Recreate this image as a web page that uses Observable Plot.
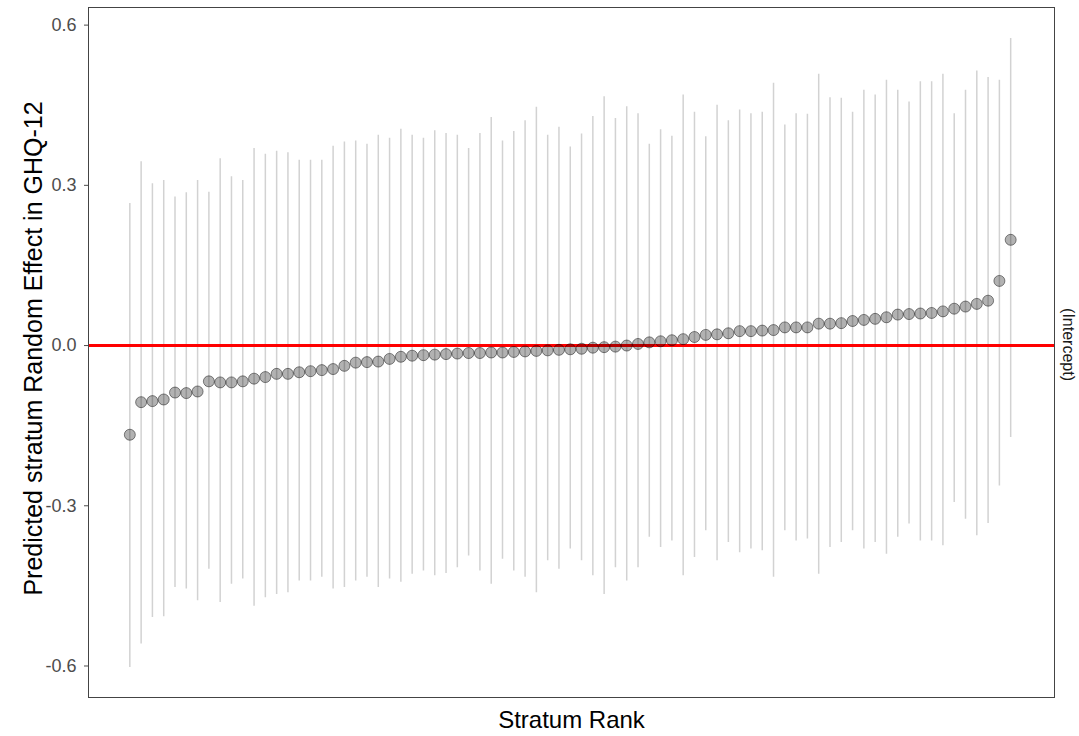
<!DOCTYPE html>
<html>
<head>
<meta charset="utf-8">
<script src="https://cdn.jsdelivr.net/npm/d3@7"></script>
<script src="https://cdn.jsdelivr.net/npm/@observablehq/plot@0.6"></script>
<style>
  html, body { margin: 0; padding: 0; background: #fff; }
</style>
</head>
<body>
<div id="chart"></div>
<script>
// Predicted stratum random effects (sorted by rank) with interval ends
const estimate = [-0.167,-0.106,-0.104,-0.101,-0.088,-0.089,-0.086,-0.067,-0.069,-0.069,
  -0.067,-0.062,-0.059,-0.053,-0.053,-0.050,-0.048,-0.046,-0.044,-0.038,
  -0.032,-0.031,-0.030,-0.025,-0.021,-0.019,-0.018,-0.017,-0.016,-0.015,
  -0.014,-0.014,-0.013,-0.013,-0.012,-0.011,-0.010,-0.009,-0.008,-0.007,
  -0.006,-0.004,-0.003,-0.002,0.000,0.003,0.006,0.008,0.010,0.012,
  0.016,0.020,0.021,0.023,0.027,0.027,0.028,0.029,0.034,0.034,
  0.034,0.041,0.041,0.042,0.046,0.048,0.050,0.053,0.058,0.059,
  0.060,0.061,0.064,0.069,0.073,0.078,0.084,0.121,0.198];
const upper = [0.266,0.344,0.303,0.309,0.278,0.286,0.309,0.287,0.350,0.316,
  0.309,0.369,0.358,0.364,0.361,0.347,0.347,0.347,0.373,0.381,
  0.383,0.377,0.394,0.388,0.405,0.394,0.388,0.402,0.397,0.394,
  0.369,0.397,0.427,0.383,0.401,0.421,0.446,0.394,0.409,0.372,
  0.396,0.429,0.466,0.425,0.447,0.434,0.377,0.404,0.392,0.469,
  0.437,0.391,0.450,0.421,0.441,0.434,0.437,0.491,0.413,0.434,
  0.433,0.508,0.464,0.463,0.437,0.478,0.469,0.497,0.478,0.456,
  0.494,0.494,0.508,0.434,0.478,0.514,0.502,0.497,0.575];
const lower = [-0.603,-0.559,-0.509,-0.508,-0.453,-0.456,-0.478,-0.419,-0.481,-0.447,
  -0.437,-0.488,-0.472,-0.466,-0.463,-0.441,-0.441,-0.434,-0.456,-0.453,
  -0.441,-0.434,-0.453,-0.437,-0.443,-0.428,-0.422,-0.431,-0.427,-0.416,
  -0.394,-0.422,-0.447,-0.400,-0.422,-0.434,-0.463,-0.403,-0.419,-0.381,
  -0.403,-0.431,-0.466,-0.416,-0.441,-0.416,-0.359,-0.378,-0.366,-0.431,
  -0.397,-0.347,-0.403,-0.369,-0.388,-0.381,-0.384,-0.434,-0.347,-0.366,
  -0.362,-0.428,-0.378,-0.369,-0.347,-0.381,-0.369,-0.391,-0.359,-0.334,
  -0.366,-0.366,-0.375,-0.294,-0.325,-0.356,-0.333,-0.263,-0.172];
const yTicks = [-0.6, -0.3, 0.0, 0.3, 0.6];
const yTitle = "Predicted stratum Random Effect in GHQ-12";
const xTitle = "Stratum Rank";
const stripLabel = "(Intercept)";

const data = estimate.map((v, i) => ({rank: i + 1, est: v, lo: lower[i], hi: upper[i]}));

const chart = Plot.plot({
  width: 1079,
  height: 736,
  marginLeft: 88,
  marginRight: 25,
  marginTop: 7,
  marginBottom: 39,
  style: {fontFamily: "'Liberation Sans', Arial, sans-serif", background: "#fff"},
  x: {domain: [-2.66, 82.88], axis: null},
  y: {domain: [-0.659, 0.633], axis: null},
  marks: [
    Plot.ruleX(data, {x: "rank", y1: "lo", y2: "hi", stroke: "#d2d2d2", strokeWidth: 1.5}),
    Plot.ruleY([0], {stroke: "#ff0000", strokeWidth: 3}),
    Plot.dot(data, {x: "rank", y: "est", r: 5.5, fill: "#000", fillOpacity: 0.3, stroke: "#000", strokeOpacity: 0.45, strokeWidth: 1}),
    Plot.frame({stroke: "#444", strokeWidth: 1}),
    Plot.axisY(yTicks, {
      tickSize: 4, tickPadding: 8, fontSize: 18, color: "#4d4d4d",
      tickFormat: d => d.toFixed(1), label: null
    }),
    Plot.text([yTitle], {frameAnchor: "left", dx: -47, dy: -4, rotate: -90, lineAnchor: "bottom",
      textAnchor: "middle", fontSize: 25, fill: "#000"}),
    Plot.text([xTitle], {frameAnchor: "bottom", dy: 30, lineAnchor: "bottom",
      textAnchor: "middle", fontSize: 24, fill: "#000"}),
    Plot.text([stripLabel], {frameAnchor: "right", dx: 14, dy: -8, rotate: 90, lineAnchor: "middle",
      textAnchor: "middle", fontSize: 16, fill: "#1a1a1a"})
  ]
});
document.getElementById("chart").appendChild(chart);
</script>
</body>
</html>
